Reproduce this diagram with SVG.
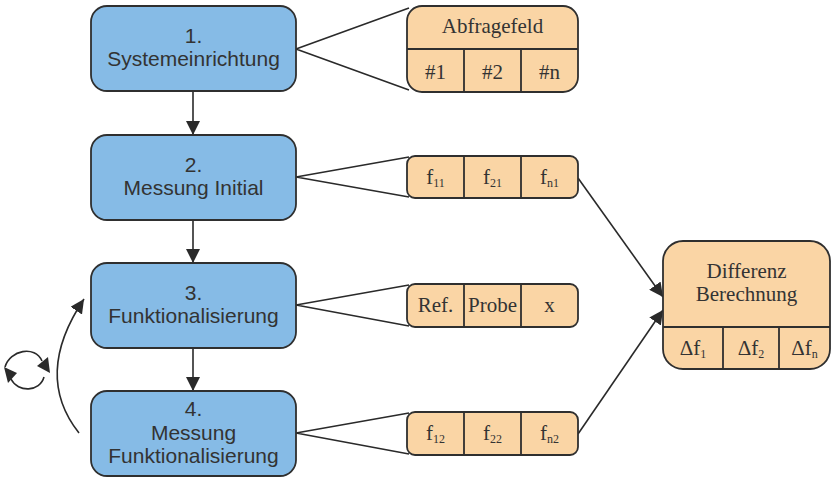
<svg xmlns="http://www.w3.org/2000/svg" width="831" height="477" viewBox="0 0 831 477">
<defs>
<style>
.step{fill:#86BBE6;stroke:#2f2f2f;stroke-width:1.8}
.tab{fill:#FAD5A5;stroke:#2f2f2f;stroke-width:1.8}
.div{stroke:#2f2f2f;stroke-width:1.8;fill:none}
.sans{font-family:"Liberation Sans",Arial,sans-serif;font-size:21px;fill:#333;text-anchor:middle}
.serif{font-family:"Liberation Serif","Times New Roman",serif;font-size:21px;fill:#333;text-anchor:middle}
.sub{font-size:12px}
.ln{stroke:#2a2a2a;stroke-width:1.6;fill:none}
.ah{fill:#2a2a2a}
</style>
<marker id="arr" markerUnits="userSpaceOnUse" markerWidth="15" markerHeight="14" refX="14" refY="7" orient="auto">
<path d="M0,0 L14,7 L0,14 z" fill="#2a2a2a"/>
</marker>
</defs>

<g id="connectors">
<line class="ln" x1="193" y1="92" x2="193" y2="135" marker-end="url(#arr)"/>
<line class="ln" x1="193" y1="220" x2="193" y2="263" marker-end="url(#arr)"/>
<line class="ln" x1="193" y1="348" x2="193" y2="391" marker-end="url(#arr)"/>
<polyline class="ln" points="409,8 296,49 409,90"/>
<polyline class="ln" points="409,157 296,177 409,197"/>
<polyline class="ln" points="409,285 296,305 409,326"/>
<polyline class="ln" points="409,413 296,433 409,454"/>
<line class="ln" x1="578" y1="178" x2="663" y2="297" marker-end="url(#arr)"/>
<line class="ln" x1="578" y1="434" x2="663" y2="310" marker-end="url(#arr)"/>
<path class="ln" d="M79,433 Q33,375 84,299" marker-end="url(#arr)"/>
</g>

<g id="cycle-icon">
<path class="ln" d="M5,367 C10,350 35,345 42,361"/>
<polygon class="ah" points="37,366 48,357 50,373"/>
<path class="ln" d="M44,377 C40,392 18,393 11,379"/>
<polygon class="ah" points="4,367 8,383 17,373"/>
</g>

<g id="step1">
<rect class="step" x="91" y="6" width="205" height="85" rx="16"/>
<text class="sans" x="193.5" y="43">1.</text>
<text class="sans" x="193.5" y="66">Systemeinrichtung</text>
</g>
<g id="step2">
<rect class="step" x="91" y="135" width="205" height="85" rx="16"/>
<text class="sans" x="193.5" y="172">2.</text>
<text class="sans" x="193.5" y="195">Messung Initial</text>
</g>
<g id="step3">
<rect class="step" x="91" y="263" width="205" height="85" rx="16"/>
<text class="sans" x="193.5" y="300">3.</text>
<text class="sans" x="193.5" y="323">Funktionalisierung</text>
</g>
<g id="step4">
<rect class="step" x="91" y="391" width="205" height="85" rx="16"/>
<text class="sans" x="193.5" y="416">4.</text>
<text class="sans" x="193.5" y="440">Messung</text>
<text class="sans" x="193.5" y="463">Funktionalisierung</text>
</g>

<g id="abfragefeld">
<rect class="tab" x="407" y="6" width="171" height="86" rx="15"/>
<path class="div" d="M407,49 H578 M464,49 V92 M521,49 V92"/>
<text class="serif" x="492.5" y="33">Abfragefeld</text>
<text class="serif" x="435.5" y="79">#1</text>
<text class="serif" x="492.5" y="79">#2</text>
<text class="serif" x="549.5" y="79">#n</text>
</g>

<g id="row-initial">
<rect class="tab" x="407" y="156" width="171" height="42" rx="8"/>
<path class="div" d="M464,156 V198 M521,156 V198"/>
<text class="serif" x="435.5" y="184">f<tspan class="sub" dy="3">11</tspan></text>
<text class="serif" x="492.5" y="184">f<tspan class="sub" dy="3">21</tspan></text>
<text class="serif" x="549.5" y="184">f<tspan class="sub" dy="3">n1</tspan></text>
</g>

<g id="row-funk">
<rect class="tab" x="407" y="284" width="171" height="43" rx="8"/>
<path class="div" d="M464,284 V327 M521,284 V327"/>
<text class="serif" x="435.5" y="312">Ref.</text>
<text class="serif" x="492.5" y="312">Probe</text>
<text class="serif" x="549.5" y="312">x</text>
</g>

<g id="row-messung">
<rect class="tab" x="407" y="412" width="171" height="43" rx="8"/>
<path class="div" d="M464,412 V455 M521,412 V455"/>
<text class="serif" x="435.5" y="440">f<tspan class="sub" dy="3">12</tspan></text>
<text class="serif" x="492.5" y="440">f<tspan class="sub" dy="3">22</tspan></text>
<text class="serif" x="549.5" y="440">f<tspan class="sub" dy="3">n2</tspan></text>
</g>

<g id="differenz">
<rect class="tab" x="663" y="241" width="167" height="128" rx="20"/>
<path class="div" d="M663,327 H830 M723,327 V369 M779,327 V369"/>
<text class="serif" x="746.5" y="278">Differenz</text>
<text class="serif" x="746.5" y="301">Berechnung</text>
<text class="serif" x="693" y="355">Δf<tspan class="sub" dy="3">1</tspan></text>
<text class="serif" x="751" y="355">Δf<tspan class="sub" dy="3">2</tspan></text>
<text class="serif" x="804.5" y="355">Δf<tspan class="sub" dy="3">n</tspan></text>
</g>
</svg>
